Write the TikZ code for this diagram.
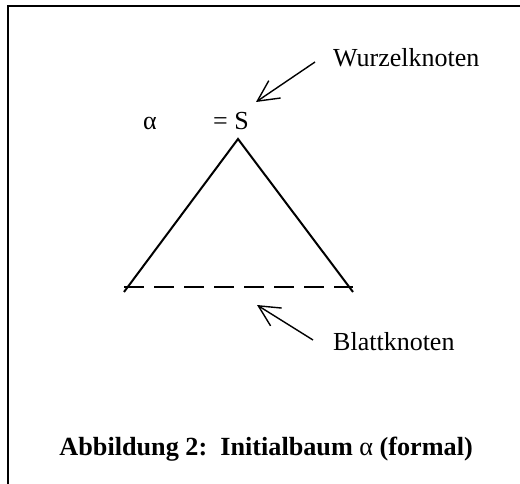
\documentclass[tikz,border=0pt]{standalone}
\usepackage{fontspec}
\setmainfont{Liberation Serif}
\usetikzlibrary{arrows.meta}
\tikzset{
  frameline/.style={line width=2pt},
  treeline/.style={line width=2pt},
  leafline/.style={line width=2pt, dash pattern=on 20pt off 10pt},
  pointer/.style={line width=1.4pt, -{Straight Barb[length=21pt,width=21pt,line width=1.4pt]}},
  lbl/.style={inner sep=0pt, font=\fontsize{26}{30}\selectfont},
  captext/.style={inner sep=0pt, font=\fontsize{26.2}{30}\selectfont\bfseries}
}
\begin{document}
\begin{tikzpicture}[x=1pt,y=-1pt]
\useasboundingbox (0,0) rectangle (520,484);
\fill[white] (0,0) rectangle (520,484);
% frame
\draw[frameline] (7.5,484) -- (7.5,6.5) -- (520,6.5);
% texts
\node[lbl, anchor=base west] (alpha) at (143,130) {α};
\node[lbl, anchor=base west] (eqS) at (213,130) {= S};
\node[lbl, anchor=base west] (wurzel) at (333,67) {Wurzelknoten};
\node[lbl, anchor=base west] (blatt) at (333,350) {Blattknoten};
\node[captext, anchor=base east] (caption) at (473,455) {Abbildung 2:\ \ Initialbaum {\mdseries α} (formal)};
% triangle
\coordinate (apex) at (238,139);
\coordinate (bl) at (124,292);
\coordinate (br) at (353,292);
\coordinate (dl) at (124,287);
\coordinate (dr) at (353,287);
\draw[treeline] (bl) -- (apex) -- (br);
\draw[leafline] (dl) -- (dr);
% pointers
\coordinate (wtail) at (315,62);
\coordinate (wtip) at (256,102);
\coordinate (btail) at (313,340);
\coordinate (btip) at (257,305);
\draw[pointer] (wtail) -- (wtip);
\draw[pointer] (btail) -- (btip);
\end{tikzpicture}
\end{document}
